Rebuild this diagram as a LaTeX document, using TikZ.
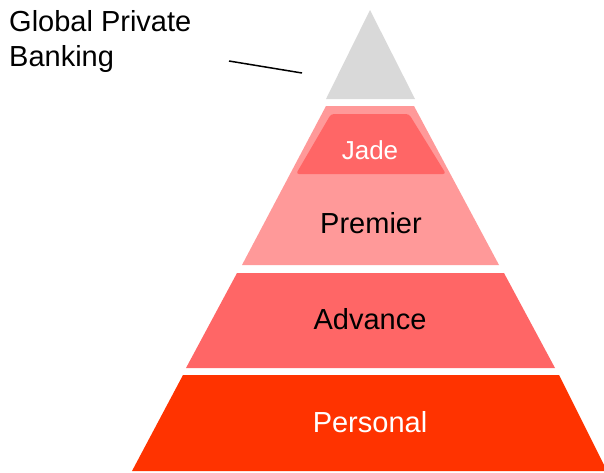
\documentclass[tikz,border=0pt]{standalone}
\usepackage{fontspec}
\setmainfont{Liberation Sans}
\definecolor{gpbgray}{HTML}{D9D9D9}
\definecolor{premierpink}{HTML}{FF9999}
\definecolor{advancered}{HTML}{FF6666}
\definecolor{personalred}{HTML}{FF3300}

\begin{document}
\begin{tikzpicture}[x=1pt,y=-1pt]
        \tikzstyle{every node}=[font=\fontsize{29}{34.7}\selectfont, inner sep=0pt]
        \tikzstyle{tierlabel}=[anchor=base]
        \useasboundingbox (0,0) rectangle (604,472);
        % pyramid, top to bottom
        \fill[gpbgray] (370,10) -- (415,99) -- (326,99) -- cycle;
        \fill[premierpink] (326,106) -- (414,106) -- (499,265) -- (242,265) -- cycle;
        \fill[advancered, rounded corners=3pt] (331,114) -- (409,114) -- (446,174) -- (296,174) -- cycle;
        \fill[advancered] (237,273) -- (504,273) -- (555,368) -- (186,368) -- cycle;
        \fill[personalred] (183,375) -- (559,375) -- (607,471) -- (132,471) -- cycle;
        \node[tierlabel, text=white, font=\fontsize{26}{30}\selectfont] (jade) at (370,159) {Jade};
        \node[tierlabel] (premier) at (371,233) {Premier};
        \node[tierlabel] (advance) at (370,329) {Advance};
        \node[tierlabel, text=white] (personal) at (370,432) {Personal};
        % label for the top tier (base is the last line)
        \node[anchor=base west, align=left] (gpb) at (9,66) {Global Private\\Banking};
        \coordinate (gpbtail) at (229,61);
        \coordinate (gpbtip) at (302,73);
        \draw[line width=1.5pt] (gpbtail) -- (gpbtip);
\end{tikzpicture}
\end{document}
